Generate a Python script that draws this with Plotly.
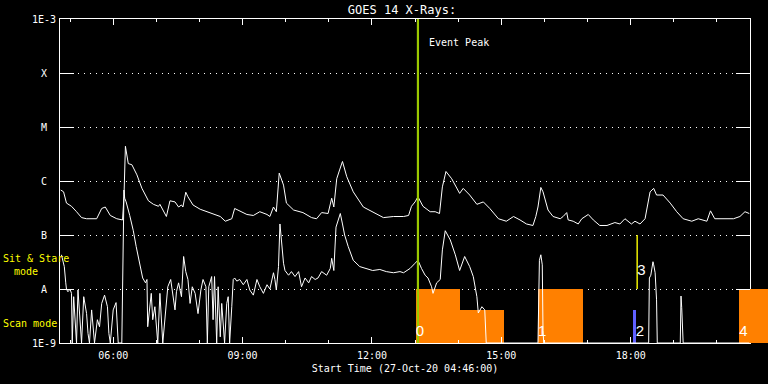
import numpy as np
import pandas as pd
import plotly.graph_objects as go

DAY = "2020-10-27 "

# ---- Long channel (1-8 A) ----
long_time = ["04:47","04:51","04:55","05:02","05:09","05:16","05:23","05:30","05:37","05:44",
             "05:49","05:56","06:05","06:13","06:15","06:17","06:21","06:26","06:33","06:40",
             "06:49","06:56","07:03","07:05","07:14","07:19","07:26","07:31","07:35","07:37",
             "07:41","07:44","07:51","08:01","08:10","08:19","08:29","08:36","08:45","08:49",
             "08:56","09:06","09:15","09:24","09:34","09:38","09:43","09:47","09:51","09:54",
             "09:57","10:01","10:11","10:24","10:36","10:43","10:50","10:59","11:04","11:07",
             "11:11","11:15","11:19","11:25","11:34","11:48","12:02","12:16","12:30","12:44",
             "12:51","12:55","13:00","13:04","13:11","13:21","13:28","13:34","13:38","13:43",
             "13:51","14:02","14:07","14:16","14:26","14:35","14:44","14:56","15:07","15:17",
             "15:26","15:35","15:44","15:48","15:51","15:55","15:58","16:05","16:12","16:22",
             "16:26","16:31","16:33","16:40","16:47","16:52","17:01","17:08","17:17","17:27",
             "17:38","17:45","17:52","18:01","18:06","18:13","18:20","18:24","18:27","18:32",
             "18:36","18:45","18:55","19:04","19:13","19:25","19:34","19:46","19:51","19:57",
             "20:09","20:23","20:32","20:39","20:45"]
long_flux = [6.8e-7,6.3e-7,3.9e-7,3.4e-7,2.7e-7,2.1e-7,2.0e-7,2.0e-7,2.0e-7,3.1e-7,
             3.3e-7,2.3e-7,2.0e-7,1.9e-7,5.1e-7,4.4e-6,2.1e-6,2.0e-6,1.3e-6,7.3e-7,
             4.3e-7,3.7e-7,3.4e-7,3.7e-7,2.2e-7,4.3e-7,4.1e-7,3.3e-7,3.6e-7,3.3e-7,
             6.2e-7,5.1e-7,3.6e-7,3.0e-7,2.7e-7,2.5e-7,2.2e-7,1.8e-7,2.0e-7,3.1e-7,
             2.8e-7,2.4e-7,2.3e-7,2.7e-7,2.4e-7,2.2e-7,3.3e-7,2.7e-7,1.4e-6,1.1e-6,
             8.4e-7,3.9e-7,2.9e-7,2.6e-7,2.1e-7,2.0e-7,2.6e-7,2.5e-7,4.8e-7,3.3e-7,
             1.1e-6,1.6e-6,2.3e-6,1.2e-6,6.3e-7,3.3e-7,2.6e-7,2.1e-7,2.2e-7,2.2e-7,
             2.3e-7,3.4e-7,4.1e-7,5.1e-7,3.4e-7,2.7e-7,2.7e-7,2.5e-7,7.8e-7,1.5e-6,
             1.1e-6,5.9e-7,7.3e-7,5.5e-7,3.7e-7,4.1e-7,3.1e-7,2.0e-7,1.8e-7,2.2e-7,
             1.9e-7,1.6e-7,1.5e-7,2.2e-7,3.3e-7,7.6e-7,6.3e-7,2.9e-7,2.2e-7,2.0e-7,
             2.2e-7,2.6e-7,1.9e-7,1.8e-7,1.6e-7,2.0e-7,2.4e-7,1.9e-7,1.5e-7,1.5e-7,
             1.7e-7,1.6e-7,2.0e-7,1.6e-7,1.8e-7,1.6e-7,2.0e-7,3.6e-7,6.3e-7,7.3e-7,
             5.5e-7,5.5e-7,3.9e-7,2.7e-7,2.0e-7,1.8e-7,2.0e-7,1.8e-7,2.8e-7,2.0e-7,
             2.0e-7,2.0e-7,2.2e-7,2.7e-7,2.5e-7]

# ---- Short channel (0.5-4 A) ----
short_time = ["04:48","04:52","04:54","04:55","04:57","05:00","05:02","05:03","05:05","05:09",
              "05:11","05:13","05:16","05:19","05:23","05:25","05:27","05:30","05:34","05:38",
              "05:41","05:44","05:48","05:52","05:54","05:56","06:00","06:04","06:07","06:12",
              "06:15","06:16","06:18","06:23","06:28","06:32","06:37","06:41","06:45","06:47",
              "06:48","06:51","06:53","06:55","06:58","07:02","07:05","07:09","07:12","07:16",
              "07:20","07:23","07:26","07:28","07:31","07:35","07:38","07:41","07:44","07:47",
              "07:50","07:54","07:58","08:02","08:05","08:09","08:11","08:13","08:17","08:19",
              "08:21","08:24","08:26","08:29","08:31","08:35","08:38","08:40","08:42","08:45",
              "08:47","08:49","08:52","08:56","09:01","09:06","09:10","09:15","09:20","09:24",
              "09:29","09:34","09:38","09:43","09:45","09:47","09:50","09:52","09:54","09:57",
              "09:59","10:04","10:08","10:13","10:18","10:22","10:27","10:32","10:36","10:41",
              "10:45","10:50","10:57","11:02","11:04","11:07","11:10","11:13","11:16","11:19",
              "11:22","11:27","11:34","11:43","11:53","12:01","12:11","12:20","12:30","12:39",
              "12:44","12:53","13:00","13:04","13:09","13:14","13:18","13:23","13:25","13:30",
              "13:35","13:38","13:42","13:49","13:56","14:02","14:09","14:16","14:21","14:26",
              "14:28","14:33","14:37","14:39","15:51","15:53","15:55","15:57","15:58","15:59",
              "18:25","18:26","18:28","18:31","18:32","18:34","18:36","18:37","19:09","19:10",
              "19:11","19:12","19:13","20:45"]
short_flux = [4.3e-8,2.6e-8,1.3e-8,9.9e-9,8.9e-9,9.9e-9,8.3e-9,1e-9,7.2e-9,1e-9,
              9.6e-9,3.5e-9,1e-9,7.2e-9,3.5e-9,1.5e-9,1e-9,4.1e-9,1e-9,2.7e-9,
              2.0e-9,5.4e-9,7.7e-9,4.7e-9,1.5e-9,1e-9,4.1e-9,5.6e-9,1e-9,1e-9,
              6.8e-7,4.8e-7,4.1e-7,2.3e-7,1.2e-7,6.1e-8,3.0e-8,1.6e-8,1.3e-8,1.5e-8,
              2.0e-9,4.1e-9,8.3e-9,2.7e-9,4.7e-9,1e-9,8.3e-9,1e-9,3.1e-9,1.1e-8,
              1.5e-8,7.2e-9,4.1e-9,8.9e-9,1.3e-8,7.2e-9,4.0e-8,2.1e-8,1.5e-8,5.4e-9,
              1.1e-8,8.3e-9,3.5e-9,9.6e-9,1.5e-8,1.1e-8,1e-9,1.1e-8,1.7e-8,2.7e-9,
              1.7e-8,1e-9,1.1e-8,1.3e-9,5.4e-9,1e-9,5.4e-9,7.2e-9,1e-9,4.7e-9,
              1.5e-8,1.6e-8,1.4e-8,1.5e-8,1.2e-8,1.5e-8,9.6e-9,7.7e-9,1.5e-8,1.1e-8,
              8.3e-9,1.2e-8,1.0e-8,2.0e-8,1.5e-8,9.6e-9,2.6e-8,1.6e-7,8.1e-8,3.0e-8,
              2.2e-8,1.8e-8,2.1e-8,1.7e-8,2.1e-8,1.1e-8,1.6e-8,1.3e-8,1.7e-8,1.5e-8,
              1.6e-8,2.1e-8,1.8e-8,2.4e-8,3.7e-8,2.2e-8,1.4e-7,1.8e-7,2.5e-7,1.6e-7,
              1.0e-7,6.1e-8,3.4e-8,2.6e-8,2.4e-8,2.2e-8,2.3e-8,2.1e-8,2.0e-8,2.1e-8,
              2.0e-8,2.4e-8,3.0e-8,3.4e-8,2.4e-8,1.8e-8,1.6e-8,1.1e-8,8.3e-9,1.3e-8,
              1.5e-8,5.3e-8,1.2e-7,8.1e-8,4.3e-8,2.2e-8,4.0e-8,2.6e-8,1.7e-8,7.2e-9,
              3.6e-9,4.7e-9,4.1e-9,1e-9,1e-9,3.4e-8,4.3e-8,2.8e-8,1.7e-9,1e-9,
              1e-9,1.6e-8,1.8e-8,3.2e-8,2.8e-8,2.0e-8,6.3e-9,1e-9,1e-9,7.4e-9,
              4.5e-9,1.6e-9,1e-9,1e-9]

# ---- Observation mode blocks ----
block_start = ["13:01", "14:02", "15:51", "20:31"]
block_end = ["14:02", "15:04", "16:53", "21:30"]
block_top = [1e-8, 4.1e-9, 1e-8, 1e-8]

blue_start, blue_end, blue_top = "18:03", "18:07", 4.1e-9
yellow_time, yellow_lo, yellow_hi = "18:09", 1e-8, 1e-7
event_time = "13:04"

marker_labels = ["0", "1", "2", "3", "4"]
marker_times = ["13:01", "15:51", "18:07", "18:09", "20:31"]
marker_flux = [1.55e-9, 1.6e-9, 1.55e-9, 2.1e-8, 1.55e-9]

y_tickvals = [1e-9, 1e-8, 1e-7, 1e-6, 1e-5, 1e-4, 1e-3]
y_ticktext = ["1E-9", "A", "B", "C", "M", "X", "1E-3"]

FLOOR = 1e-9
FONT = "DejaVu Sans Mono"
DIGIT_FONT = "Liberation Sans"

W, H = 768, 384
ML, MR = 60, 18
PLOT_W = W - ML - MR          # main plot width (axes box)
FULL_W = W - ML               # paper width (to page edge)
x_start = pd.Timestamp(DAY + "04:46")
x_end = pd.Timestamp(DAY + "20:46")
x2_end = x_start + (x_end - x_start) * FULL_W / PLOT_W
SPLIT = PLOT_W / FULL_W


def ts(lst):
    return pd.to_datetime([DAY + t for t in lst])


fig = go.Figure()

bs, be = ts(block_start), ts(block_end)
widths = (be - bs).total_seconds() * 1000
bar_y = [t - FLOOR for t in block_top]
# mode blocks inside the axes box
fig.add_trace(go.Bar(x=bs + (be - bs) / 2, y=bar_y, base=FLOOR, width=widths,
                     marker=dict(color="#ff8000", line=dict(width=0)),
                     showlegend=False, hoverinfo="skip"))
# same blocks, continued past the right axis (strip to the page edge)
fig.add_trace(go.Bar(x=bs + (be - bs) / 2, y=bar_y, base=FLOOR, width=widths,
                     marker=dict(color="#ff8000", line=dict(width=0)),
                     xaxis="x2", yaxis="y2", showlegend=False, hoverinfo="skip"))

b0, b1 = ts([blue_start])[0], ts([blue_end])[0]
fig.add_trace(go.Bar(x=[b0 + (b1 - b0) / 2], y=[blue_top - FLOOR], base=FLOOR,
                     width=[(b1 - b0).total_seconds() * 1000],
                     marker=dict(color="#6060ff", line=dict(width=0)),
                     showlegend=False, hoverinfo="skip"))

fig.add_trace(go.Scatter(x=ts(long_time), y=long_flux, mode="lines",
                         line=dict(color="white", width=1), showlegend=False))
fig.add_trace(go.Scatter(x=ts(short_time), y=short_flux, mode="lines",
                         line=dict(color="white", width=1), showlegend=False))

yt = ts([yellow_time])[0]
fig.add_trace(go.Scatter(x=[yt, yt], y=[yellow_lo, yellow_hi], mode="lines",
                         line=dict(color="#ffff00", width=1.4), showlegend=False))
et = ts([event_time])[0]
fig.add_trace(go.Scatter(x=[et, et], y=[1e-9, 1e-3], mode="lines",
                         line=dict(color="#9bc800", width=2.2), showlegend=False))

fig.add_trace(go.Scatter(x=ts(marker_times), y=marker_flux, mode="text", text=marker_labels,
                         textposition="middle right",
                         textfont=dict(family=DIGIT_FONT, size=15, color="white"),
                         showlegend=False, cliponaxis=False))

annotations = [
    dict(x=et, y=0.926, xref="x", yref="paper", text="Event Peak", showarrow=False,
         xanchor="left", yanchor="middle", xshift=9, font=dict(family=FONT, size=10, color="white")),
    dict(x=0, y=-7.444, xref="paper", yref="y", text="Sit & Stare", showarrow=False,
         xanchor="left", yanchor="middle", xshift=-59, font=dict(family=FONT, size=10, color="#ffff00")),
    dict(x=0, y=-7.667, xref="paper", yref="y", text="mode", showarrow=False,
         xanchor="left", yanchor="middle", xshift=-48, font=dict(family=FONT, size=10, color="#ffff00")),
    dict(x=0, y=-8.64, xref="paper", yref="y", text="Scan mode", showarrow=False,
         xanchor="left", yanchor="middle", xshift=-59, font=dict(family=FONT, size=10, color="#ffff00")),
]
for v, t in zip(y_tickvals, y_ticktext):
    annotations.append(dict(x=0, y=float(np.log10(v)), xref="paper", yref="y", text=t,
                            showarrow=False, xanchor="center", yanchor="middle", xshift=-16,
                            font=dict(family=FONT, size=10, color="white")))

fig.update_layout(
    width=W, height=H,
    margin=dict(l=ML, r=0, t=19, b=41),
    paper_bgcolor="black", plot_bgcolor="black",
    font=dict(family=FONT, size=10, color="white"),
    title=dict(text="GOES 14 X-Rays:", x=(PLOT_W / 2 - 3) / FULL_W, xref="paper", xanchor="center",
               y=1 - 10 / H, yref="container", yanchor="middle",
               font=dict(family=FONT, size=12, color="white")),
    bargap=0, barmode="overlay",
    annotations=annotations,
    xaxis=dict(type="date", range=[x_start, x_end], domain=[0, SPLIT], anchor="y",
               tickmode="linear", tick0=DAY + "00:00", dtick=3 * 3600000,
               tickformat="%H:%M", ticks="inside", ticklen=6, tickcolor="white",
               tickfont=dict(family=FONT, size=10, color="white"), ticklabelstandoff=3,
               minor=dict(dtick=3600000, tick0=DAY + "00:00", ticks="inside",
                          ticklen=3, tickcolor="white", showgrid=False),
               showline=True, linecolor="white", linewidth=1, mirror="allticks",
               showgrid=False, zeroline=False,
               title=dict(text="Start Time (27-Oct-20 04:46:00)", standoff=4,
                          font=dict(family=FONT, size=10, color="white"))),
    yaxis=dict(type="log", range=[-9, -3], tickvals=y_tickvals, showticklabels=False,
               anchor="x", ticks="inside", ticklen=14, tickcolor="white",
               showline=True, linecolor="white", linewidth=1, mirror="allticks",
               showgrid=True, gridcolor="white", gridwidth=1, griddash="1px,5px",
               zeroline=False),
    xaxis2=dict(type="date", range=[x_end, x2_end], domain=[SPLIT, 1], anchor="y2",
                visible=False, showgrid=False, zeroline=False),
    yaxis2=dict(type="log", range=[-9, -3], anchor="x2", visible=False,
                showgrid=False, zeroline=False),
)

fig.write_html("out.html", config={"displayModeBar": False},
               post_script="document.body.style.margin='0';document.body.style.background='black';")
